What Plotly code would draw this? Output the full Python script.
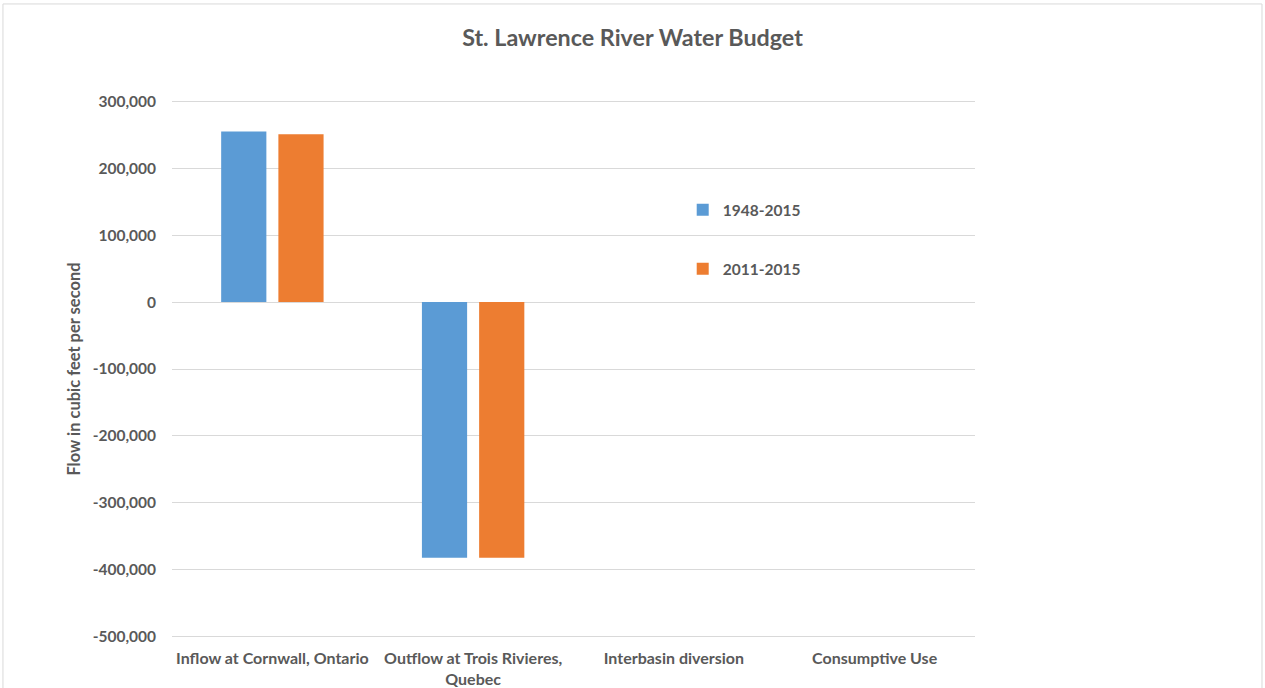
import plotly.graph_objects as go

categories = ["Inflow at Cornwall, Ontario", "Outflow at Trois Rivieres,<br>Quebec",
              "Interbasin diversion", "Consumptive Use"]
series_names = ["1948-2015", "2011-2015"]
values_1948_2015 = [255000, -382000, 0, 0]
values_2011_2015 = [251000, -382000, 0, 0]
tick_vals = [300000, 200000, 100000, 0, -100000, -200000, -300000, -400000, -500000]
tick_text = ["300,000", "200,000", "100,000", "0", "-100,000", "-200,000", "-300,000", "-400,000", "-500,000"]

font_family = "Lato, Open Sans, sans-serif"
txt = "#595959"

fig = go.Figure()
fig.add_trace(go.Bar(x=categories, y=values_1948_2015, name=series_names[0],
                     marker=dict(color="#5b9bd5", line=dict(width=0)), legendgroup="a"))
fig.add_trace(go.Bar(x=categories, y=values_2011_2015, name=series_names[1],
                     marker=dict(color="#ed7d31", line=dict(width=0)), legendgroup="b"))

fig.update_layout(
    width=1265, height=688,
    paper_bgcolor="white", plot_bgcolor="white",
    margin=dict(l=172, r=290, t=100, b=50, autoexpand=False),
    barmode="group", bargap=0.43, bargroupgap=0.21,
    title=dict(text="<b>St. Lawrence River Water Budget</b>", x=0.5, xanchor="center",
               y=0.945, yanchor="middle",
               font=dict(family=font_family, size=23.3, color=txt)),
    font=dict(family=font_family, color=txt),
    legend=dict(x=0.636, y=0.827, xanchor="left", yanchor="top",
                font=dict(size=15.5, color=txt, family=font_family, weight="bold"),
                tracegroupgap=36, itemwidth=30, bgcolor="rgba(0,0,0,0)",
                traceorder="grouped"),
    showlegend=True,
    xaxis=dict(showgrid=False, showline=False, ticks="", ticklabelstandoff=9, automargin=False,
               tickfont=dict(size=16, color=txt, family=font_family, weight="bold")),
    yaxis=dict(range=[-502000, 302000], tickvals=tick_vals, ticktext=tick_text, automargin=False,
               showgrid=True, gridcolor="#d9d9d9", gridwidth=1,
               zeroline=True, zerolinecolor="#d9d9d9", zerolinewidth=1,
               showline=False, ticks="", ticklabelstandoff=15,
               tickfont=dict(size=15.5, color=txt, family=font_family, weight="bold"),
               title=dict(text="<b>Flow in cubic feet per second</b>", standoff=7,
                          font=dict(size=16.5, color=txt, family=font_family))),
)

fig.add_shape(type="rect", xref="paper", yref="paper",
              x0=-0.2105, x1=1.3574, y0=-0.2, y1=1.1785,
              line=dict(color="#d9d9d9", width=1), fillcolor="rgba(0,0,0,0)", layer="below")

fig.write_html("out.html", config={"displayModeBar": False},
               post_script="document.body.style.margin='0';")
